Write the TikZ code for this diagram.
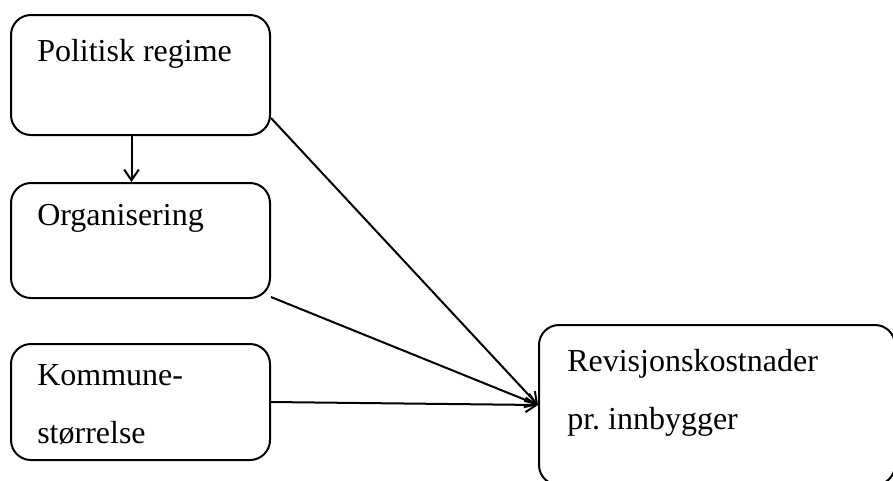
\documentclass[tikz,border=0pt]{standalone}
\usepackage{fontspec}
\setmainfont{Liberation Serif}
\usetikzlibrary{calc, arrows.meta}

\tikzset{
  box/.style={draw, line width=1.5pt, rounded corners=15pt, anchor=north west, inner sep=0pt},
  boxtext/.style={anchor=base west, inner sep=0pt, align=left, font=\fontsize{24}{43}\selectfont},
  link/.style={->, line width=1.5pt},
  >={Straight Barb[length=8pt,width=11pt]}
}

\begin{document}
\begin{tikzpicture}[x=0.75pt,y=-0.75pt]
\useasboundingbox (0,0) rectangle (893,480);
\node[box, minimum width=194.25pt, minimum height=90pt] (pol) at (10,14) {};
\node[box, minimum width=194.25pt, minimum height=86.25pt] (org) at (10,182) {};
\node[box, minimum width=194.25pt, minimum height=87pt] (kom) at (10,343) {};
\node[box, minimum width=267pt, minimum height=120pt] (rev) at (538,324) {};
\node[boxtext] (poltext) at ($(pol.north west)+(27,47)$) {Politisk regime};
\node[boxtext] (orgtext) at ($(org.north west)+(27,43)$) {Organisering};
\node[boxtext] (komtext) at ($(kom.north west)+(27,100)$) {Kommune-\\størrelse};
\node[boxtext] (revtext) at ($(rev.north west)+(29,105)$) {Revisjonskostnader\\pr.\ innbygger};
 \draw[link] ($(pol.south)+(-9,0)$) -- ($(org.north)+(-9,0)$);
 \draw[link] ($(pol.south east)+(0,-18)$) -- (rev.west);
 \draw[link] ($(org.south east)+(0,-2)$) -- (rev.west);
 \draw[link] (kom.east) -- (rev.west);
\end{tikzpicture}
\end{document}
